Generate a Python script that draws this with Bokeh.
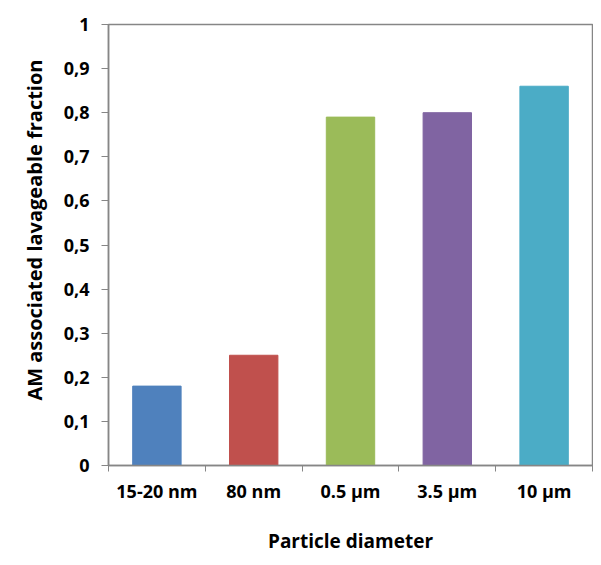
from bokeh.plotting import figure
from bokeh.models import ColumnDataSource, FixedTicker, Range1d, Title
from bokeh.embed import file_html
from bokeh.resources import INLINE

categories = ["15-20 nm", "80 nm", "0.5 µm", "3.5 µm", "10 µm"]
values = [0.18, 0.25, 0.79, 0.80, 0.86]
colors = ["#4F81BD", "#C0504D", "#9BBB59", "#8064A2", "#4BACC6"]
y_ticks = [0, 0.1, 0.2, 0.3, 0.4, 0.5, 0.6, 0.7, 0.8, 0.9, 1.0]
y_tick_labels = ["0", "0,1", "0,2", "0,3", "0,4", "0,5", "0,6", "0,7", "0,8", "0,9", "1"]
y_title = "AM associated lavageable fraction"
x_title = "Particle diameter"

xs = [i + 0.5 for i in range(len(categories))]
src = ColumnDataSource(dict(x=xs, top=values, color=colors))

p = figure(width=593, height=557, output_backend="svg", toolbar_location=None,
           x_range=Range1d(0, len(categories)), y_range=Range1d(0, 1),
           min_border_left=108, min_border_right=1, min_border_top=24, min_border_bottom=92)
p.vbar(x="x", top="top", width=0.5, color="color", source=src)

grey = "#868686"
font = "Open Sans"
p.grid.visible = False
p.outline_line_color = grey
p.outline_line_width = 1.5

p.xaxis.ticker = FixedTicker(ticks=xs, minor_ticks=list(range(len(categories) + 1)))
p.xaxis.major_label_overrides = {x: c for x, c in zip(xs, categories)}
p.xaxis.major_tick_line_color = None
p.xaxis.minor_tick_in = 0
p.xaxis.minor_tick_out = 6
p.xaxis.minor_tick_line_color = grey
p.xaxis.axis_label = x_title
p.xaxis.axis_label_standoff = 22
p.xaxis.major_label_standoff = 7

p.yaxis.ticker = FixedTicker(ticks=y_ticks, minor_ticks=[])
p.yaxis.major_label_overrides = {t: l for t, l in zip(y_ticks, y_tick_labels)}
p.yaxis.major_tick_in = 0
p.yaxis.major_tick_out = 7
p.yaxis.major_tick_line_color = grey
p.yaxis.major_label_standoff = 12

for ax in (p.xaxis, p.yaxis):
    ax.axis_line_color = grey
    ax.axis_line_width = 1.5
    ax.major_label_text_font = font
    ax.major_label_text_font_style = "bold"
    ax.major_label_text_font_size = "18px"
    ax.major_label_text_color = "#000000"
    ax.axis_label_text_font = font
    ax.axis_label_text_font_style = "bold"
    ax.axis_label_text_font_size = "19px"
    ax.axis_label_text_color = "#000000"

# y-axis title, slightly above the frame centre as in the original
p.add_layout(Title(text=y_title, align="right", offset=35, standoff=26,
                   text_font=font, text_font_style="bold", text_font_size="20px",
                   text_color="#000000"), "left")

open("out.html", "w").write(file_html(p, INLINE))
